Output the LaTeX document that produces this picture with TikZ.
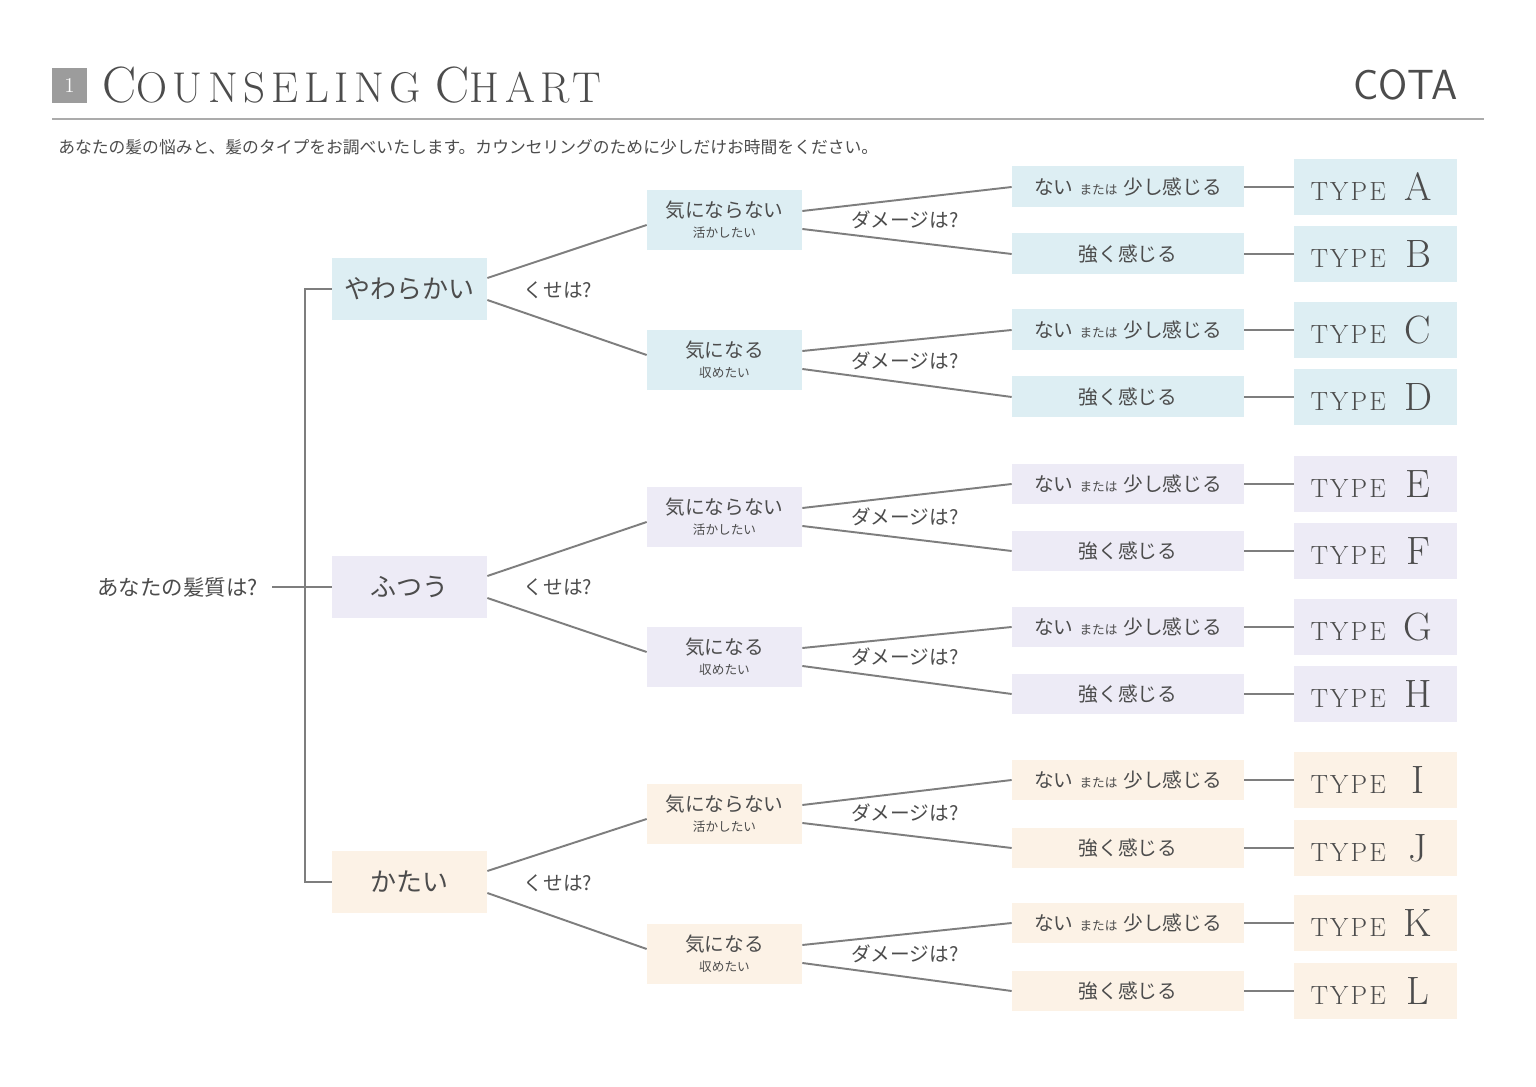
\documentclass[tikz,border=0pt]{standalone}
\usepackage{fontspec}
\usepackage{xcolor}
\usepackage{tikz}
\newfontfamily\jp{Noto Sans CJK JP}
\newfontfamily\titlefont{Latin Modern Roman}[LetterSpace=13]
\newfontfamily\typefont{Latin Modern Roman}[LetterSpace=8]
\definecolor{ink}{HTML}{4C4C4C}
\definecolor{wire}{HTML}{7E7E7E}
\definecolor{rule}{HTML}{ABABAB}
\definecolor{badge}{HTML}{9C9C9C}
\definecolor{softfill}{HTML}{DDEEF3}
\definecolor{midfill}{HTML}{EDEBF6}
\definecolor{hardfill}{HTML}{FCF2E6}
\newcommand{\typelabel}[1]{\makebox[1.7cm][l]{\typefont\fontsize{15}{15}\selectfont TYPE}\makebox[0.9cm]{\rmfamily\fontsize{22.5}{22.5}\selectfont #1}}
\newcommand{\smalljp}[1]{{\fontsize{7.2}{8}\selectfont #1}}
\newcommand{\titlebig}[1]{{\fontsize{29}{29}\selectfont #1}}
\newcommand{\titlerest}[1]{{\fontsize{24.5}{24.5}\selectfont #1}}

\begin{document}
\begin{tikzpicture}[x=0.02cm,y=-0.02cm]
\tikzstyle{every node}=[font=\jp\fontsize{11.2}{12.5}\selectfont, text=ink]
\tikzstyle{lvone}=[minimum width=3.1cm, minimum height=1.24cm, font=\jp\fontsize{14.8}{16}\selectfont]
\tikzstyle{lvtwo}=[minimum width=3.1cm, minimum height=1.22cm, align=center, inner sep=0pt]
\tikzstyle{lvthree}=[minimum width=4.64cm, minimum height=0.82cm]
\tikzstyle{typebox}=[minimum width=3.26cm, minimum height=1.12cm, font=\rmfamily]
\tikzstyle{link}=[draw=wire, line width=1.1pt]
\useasboundingbox [fill=white] (0,0) rectangle (1536,1087);
% heading
\node [fill=badge, minimum size=0.7cm, inner sep=0pt, text=white, font=\rmfamily\fontsize{12}{12}\selectfont] (num) at (69.5,85.5) {1};
\node [anchor=base west, inner sep=0pt, font=\titlefont] (title) at (102,103) {\titlebig{C}\titlerest{OUNSELING}\hspace{0.3cm}\titlebig{C}\titlerest{HART}};
\node [anchor=base east, inner sep=0pt, font=\sffamily\fontsize{24}{24}\selectfont] (brand) at (1458,100) {COTA};
\draw [draw=rule, line width=1.1pt] (52,119) -- (1484,119);
\node [anchor=west, inner sep=0pt, font=\jp\fontsize{9.55}{10}\selectfont] (lead) at (58,147) {あなたの髪の悩みと、髪のタイプをお調べいたします。カウンセリングのために少しだけお時間をください。};
% root
\node [anchor=east, inner xsep=0.28cm, font=\jp\fontsize{12.2}{13}\selectfont] (root) at (272,587) {あなたの髪質は?};
\coordinate (fork) at (305,587);
% level one
\node [lvone, fill=softfill] (soft) at (409.5,289) {やわらかい};
\node [lvone, fill=midfill] (mid) at (409.5,587) {ふつう};
\node [lvone, fill=hardfill] (hard) at (409.5,882) {かたい};
\draw [link] (root.east) -- (fork) -- (mid.west);
\draw [link] (soft.west) -| (fork) |- (hard.west);
\node (kuseSoft) at (558,290) {くせは?};
\node (kuseMid) at (558,587) {くせは?};
\node (kuseHard) at (558,883) {くせは?};
% level two
\node [lvtwo, fill=softfill] (softA) at (724.5,220) {気にならない\\[-1pt]\smalljp{活かしたい}};
\node [lvtwo, fill=softfill] (softB) at (724.5,360) {気になる\\[-1pt]\smalljp{収めたい}};
\node [lvtwo, fill=midfill] (midA) at (724.5,517) {気にならない\\[-1pt]\smalljp{活かしたい}};
\node [lvtwo, fill=midfill] (midB) at (724.5,657) {気になる\\[-1pt]\smalljp{収めたい}};
\node [lvtwo, fill=hardfill] (hardA) at (724.5,814) {気にならない\\[-1pt]\smalljp{活かしたい}};
\node [lvtwo, fill=hardfill] (hardB) at (724.5,954) {気になる\\[-1pt]\smalljp{収めたい}};
\draw [link] ([yshift=0.22cm]soft.east) -- ([yshift=-0.1cm]softA.west);
\draw [link] ([yshift=-0.22cm]soft.east) -- ([yshift=0.1cm]softB.west);
\draw [link] ([yshift=0.22cm]mid.east) -- ([yshift=-0.1cm]midA.west);
\draw [link] ([yshift=-0.22cm]mid.east) -- ([yshift=0.1cm]midB.west);
\draw [link] ([yshift=0.22cm]hard.east) -- ([yshift=-0.1cm]hardA.west);
\draw [link] ([yshift=-0.22cm]hard.east) -- ([yshift=0.1cm]hardB.west);
\node (dmgSoftA) at (905,220) {ダメージは?};
\node (dmgSoftB) at (905,361) {ダメージは?};
\node (dmgMidA) at (905,517) {ダメージは?};
\node (dmgMidB) at (905,657) {ダメージは?};
\node (dmgHardA) at (905,813) {ダメージは?};
\node (dmgHardB) at (905,954) {ダメージは?};
% level three
\node [lvthree, fill=softfill] (softA1) at (1128,187) {ない\hspace{0.12cm}\smalljp{または}\hspace{0.12cm}少し感じる};
\node [lvthree, fill=softfill] (softA2) at (1128,254) {強く感じる};
\node [lvthree, fill=softfill] (softB1) at (1128,330) {ない\hspace{0.12cm}\smalljp{または}\hspace{0.12cm}少し感じる};
\node [lvthree, fill=softfill] (softB2) at (1128,397) {強く感じる};
\node [lvthree, fill=midfill] (midA1) at (1128,484) {ない\hspace{0.12cm}\smalljp{または}\hspace{0.12cm}少し感じる};
\node [lvthree, fill=midfill] (midA2) at (1128,551) {強く感じる};
\node [lvthree, fill=midfill] (midB1) at (1128,627) {ない\hspace{0.12cm}\smalljp{または}\hspace{0.12cm}少し感じる};
\node [lvthree, fill=midfill] (midB2) at (1128,694) {強く感じる};
\node [lvthree, fill=hardfill] (hardA1) at (1128,780) {ない\hspace{0.12cm}\smalljp{または}\hspace{0.12cm}少し感じる};
\node [lvthree, fill=hardfill] (hardA2) at (1128,848) {強く感じる};
\node [lvthree, fill=hardfill] (hardB1) at (1128,923) {ない\hspace{0.12cm}\smalljp{または}\hspace{0.12cm}少し感じる};
\node [lvthree, fill=hardfill] (hardB2) at (1128,991) {強く感じる};
\draw [link] ([yshift=0.18cm]softA.east) -- (softA1.west);
\draw [link] ([yshift=-0.18cm]softA.east) -- (softA2.west);
\draw [link] ([yshift=0.18cm]softB.east) -- (softB1.west);
\draw [link] ([yshift=-0.18cm]softB.east) -- (softB2.west);
\draw [link] ([yshift=0.18cm]midA.east) -- (midA1.west);
\draw [link] ([yshift=-0.18cm]midA.east) -- (midA2.west);
\draw [link] ([yshift=0.18cm]midB.east) -- (midB1.west);
\draw [link] ([yshift=-0.18cm]midB.east) -- (midB2.west);
\draw [link] ([yshift=0.18cm]hardA.east) -- (hardA1.west);
\draw [link] ([yshift=-0.18cm]hardA.east) -- (hardA2.west);
\draw [link] ([yshift=0.18cm]hardB.east) -- (hardB1.west);
\draw [link] ([yshift=-0.18cm]hardB.east) -- (hardB2.west);
% types
\node [typebox, fill=softfill] (tA) at (1375.5,187) {\typelabel{A}};
\node [typebox, fill=softfill] (tB) at (1375.5,254) {\typelabel{B}};
\node [typebox, fill=softfill] (tC) at (1375.5,330) {\typelabel{C}};
\node [typebox, fill=softfill] (tD) at (1375.5,397) {\typelabel{D}};
\node [typebox, fill=midfill] (tE) at (1375.5,484) {\typelabel{E}};
\node [typebox, fill=midfill] (tF) at (1375.5,551) {\typelabel{F}};
\node [typebox, fill=midfill] (tG) at (1375.5,627) {\typelabel{G}};
\node [typebox, fill=midfill] (tH) at (1375.5,694) {\typelabel{H}};
\node [typebox, fill=hardfill] (tI) at (1375.5,780) {\typelabel{I}};
\node [typebox, fill=hardfill] (tJ) at (1375.5,848) {\typelabel{J}};
\node [typebox, fill=hardfill] (tK) at (1375.5,923) {\typelabel{K}};
\node [typebox, fill=hardfill] (tL) at (1375.5,991) {\typelabel{L}};
\draw [link] (softA1) -- (tA);
\draw [link] (softA2) -- (tB);
\draw [link] (softB1) -- (tC);
\draw [link] (softB2) -- (tD);
\draw [link] (midA1) -- (tE);
\draw [link] (midA2) -- (tF);
\draw [link] (midB1) -- (tG);
\draw [link] (midB2) -- (tH);
\draw [link] (hardA1) -- (tI);
\draw [link] (hardA2) -- (tJ);
\draw [link] (hardB1) -- (tK);
\draw [link] (hardB2) -- (tL);
\end{tikzpicture}
\end{document}
